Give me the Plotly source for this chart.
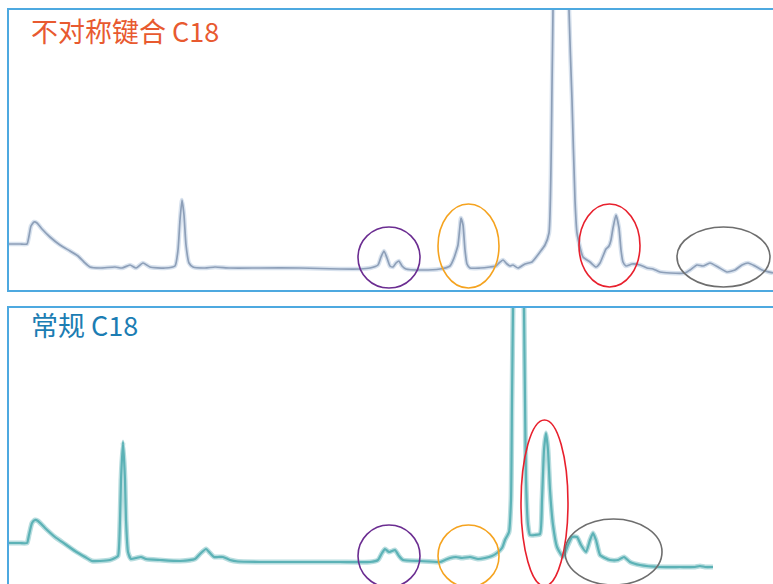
import plotly.graph_objects as go

# Retention time (min) and detector signal (mAU) for the asymmetric-bonded C18 column
t_asym = [0.00, 0.55, 0.90, 1.00, 1.10, 1.25, 1.40, 1.65, 2.05, 2.55, 3.05, 3.45, 3.75, 4.05,
          4.55, 5.30, 5.65, 6.05, 6.35, 6.70, 7.05, 7.80, 8.30, 8.45, 8.55, 8.65, 8.75, 8.85,
          9.00, 9.20, 9.80, 10.30, 11.05, 12.55, 14.55, 16.55, 17.55, 18.05, 18.45, 18.60,
          18.75, 18.90, 19.05, 19.20, 19.35, 19.50, 19.65, 19.85, 20.55, 21.55, 22.05, 22.25,
          22.35, 22.45, 22.55, 22.60, 22.70, 22.80, 22.90, 23.05, 23.55, 24.05, 24.35, 24.50,
          24.70, 24.90, 25.05, 25.20, 25.45, 25.80, 26.15, 26.55, 26.80, 27.00, 27.15, 27.20,
          27.60, 28.00, 28.15, 28.30, 28.40, 28.70, 29.05, 29.35, 29.55, 29.70, 29.85, 30.00,
          30.10, 30.20, 30.35, 30.50, 30.60, 30.70, 30.85, 31.15, 31.55, 31.90, 32.20, 32.55,
          33.05, 33.80, 34.05, 34.40, 34.70, 35.05, 35.45, 35.90, 36.30, 36.65, 36.95, 37.30,
          37.65, 38.20]
s_asym = [23, 23, 23, 27, 32, 34, 33.5, 30.5, 26.5, 22.5, 19.5, 17, 14, 11.5,
          11, 11.5, 11, 12.5, 11, 13.5, 11.5, 11, 12, 20, 35, 45, 37.5, 22.5,
          13.5, 11.5, 11, 11.5, 11, 11, 11, 10.5, 10.5, 11, 12.5, 16.5,
          19.5, 16, 12, 11.5, 13.5, 14.5, 12, 10.5, 10, 10.5, 12, 16,
          19, 22.5, 32, 36, 32.5, 20, 13, 11, 11, 11.5, 12, 13.5,
          15, 13, 12, 12.5, 11, 13, 14, 19, 22.5, 28.5, 101.5, 140,
          420, 140, 95, 45, 28.5, 16.5, 14, 11.5, 13.5, 17, 20.5, 22,
          25, 31, 37.5, 31, 20, 14, 12, 13, 12.5, 11, 10.5, 9,
          8.5, 8.5, 10, 12.5, 12, 13.5, 11.5, 9, 10, 12.5, 13.5, 12,
          10, 8.5]

# Retention time (min) and detector signal (mAU) for the conventional C18 column
t_conv = [0.00, 0.55, 0.90, 1.00, 1.15, 1.30, 1.45, 1.80, 2.30, 2.80, 3.30, 3.80, 4.15, 4.55,
          5.05, 5.30, 5.45, 5.55, 5.60, 5.70, 5.80, 5.85, 5.95, 6.10, 6.35, 6.60, 6.85, 7.55,
          8.55, 9.30, 9.55, 9.85, 10.05, 10.25, 10.45, 10.70, 11.05, 11.45, 12.55, 14.55, 16.55,
          18.05, 18.45, 18.65, 18.80, 19.00, 19.15, 19.30, 19.50, 19.70, 20.55, 21.55, 21.80,
          22.05, 22.35, 22.65, 23.05, 23.45, 23.80, 24.15, 24.40, 24.65, 24.80, 25.00, 25.10,
          25.15, 25.20, 25.475, 25.75, 25.80, 25.85, 25.95, 26.05, 26.30, 26.55, 26.65, 26.75,
          26.85, 26.95, 27.05, 27.20, 27.40, 27.70, 27.95, 28.15, 28.40, 28.60, 28.85, 29.05,
          29.20, 29.35, 29.55, 29.80, 30.05, 30.45, 30.75, 31.05, 31.55, 32.55, 33.55, 34.30,
          34.55, 34.80, 35.20]
s_conv = [22.5, 22.5, 22.5, 26.5, 32.5, 34, 33.5, 30, 25.5, 22, 18.5, 15.5, 13.5, 13.5,
          14, 15, 16, 34, 54, 73, 54, 34, 18, 14.5, 15, 15.5, 14.5, 14,
          13.5, 14.5, 17, 19.5, 17.5, 15.5, 15.5, 15.5, 14, 13.25, 13, 13, 13,
          13, 14, 17.5, 19.5, 18, 18.5, 19, 16, 14, 13.5, 13, 14,
          15, 15.5, 15, 15.5, 14.5, 15, 16, 17.5, 20, 24, 28, 44,
          94, 140, 420, 140, 94, 54, 31.5, 26.5, 26.5, 27, 44, 69,
          77.5, 69, 49, 31.5, 20.5, 15.5, 21.5, 25.5, 25.5, 21.5, 18, 24,
          27.5, 24, 16.5, 15, 14, 14, 15.5, 13, 11.5, 10.5, 10.5, 10.5,
          11, 10.5, 10.5]

panel_titles = ["不对称键合 C18", "常规 C18"]

# Highlighted peak groups: (panel, t_start, t_end, s_low, s_high, colour)
highlights = [
    (0, 17.45, 20.55, 1.0, 31.5, "#6b2d91"),
    (0, 21.45, 24.50, 1.0, 43.0, "#f5a31f"),
    (0, 28.50, 31.55, 1.5, 43.0, "#e8202d"),
    (0, 33.40, 38.05, 1.5, 31.5, "#6e6e6e"),
    (1, 17.45, 20.55, 0.5, 31.5, "#6b2d91"),
    (1, 21.45, 24.50, 0.5, 31.5, "#f5a31f"),
    (1, 25.60, 27.95, 1.0, 84.0, "#e8202d"),
    (1, 27.80, 32.65, 1.5, 34.5, "#6e6e6e"),
]

W, H = 773, 584
FRAME = "#4ea9e0"
x_dom = [9 / W, 1.0]
t_range = [0, 38.2]

fig = go.Figure()

# Each chromatogram: a soft wide underlay plus the sharper trace on top
smooth = dict(shape="spline", smoothing=0.5)
fig.add_trace(go.Scatter(x=t_asym, y=s_asym, mode="lines", xaxis="x", yaxis="y",
                         line=dict(color="#d8e2ee", width=4.5, **smooth), hoverinfo="skip"))
fig.add_trace(go.Scatter(x=t_asym, y=s_asym, mode="lines", xaxis="x", yaxis="y",
                         line=dict(color="#8d9fb8", width=1.7, **smooth)))
fig.add_trace(go.Scatter(x=t_conv, y=s_conv, mode="lines", xaxis="x2", yaxis="y2",
                         line=dict(color="#b8dddf", width=5, **smooth), hoverinfo="skip"))
fig.add_trace(go.Scatter(x=t_conv, y=s_conv, mode="lines", xaxis="x2", yaxis="y2",
                         line=dict(color="#5cb2b6", width=2.2, **smooth)))

for panel, t0, t1, s0, s1, col in highlights:
    ax = "" if panel == 0 else "2"
    fig.add_shape(type="circle", xref="x" + ax, yref="y" + ax,
                  x0=t0, x1=t1, y0=s0, y1=s1,
                  line=dict(color=col, width=1.6), layer="above")

title_cols = ["#e85a30", "#1c7db3"]
title_y = [1 - 30.5 / H, 1 - 324.5 / H]
for txt, col, yy in zip(panel_titles, title_cols, title_y):
    fig.add_annotation(text=txt, xref="paper", yref="paper", x=29 / W, y=yy,
                       xanchor="left", yanchor="middle", showarrow=False,
                       font=dict(family="Noto Sans CJK SC", size=27, color=col))

axis_common = dict(showgrid=False, zeroline=False, showticklabels=False, ticks="",
                   linecolor=FRAME, linewidth=2)

fig.update_layout(
    width=W, height=H,
    margin=dict(l=0, r=0, t=0, b=0),
    paper_bgcolor="white", plot_bgcolor="white",
    showlegend=False,
    xaxis=dict(domain=x_dom, range=t_range, showline=True, mirror=True,
               anchor="y", **axis_common),
    yaxis=dict(domain=[1 - 290 / H, 1 - 10 / H], range=[0, 140], showline=True,
               anchor="x", **axis_common),
    xaxis2=dict(domain=x_dom, range=t_range, showline=True, side="top",
                anchor="y2", **axis_common),
    yaxis2=dict(domain=[0, 1 - 308 / H], range=[2, 140], showline=True,
                anchor="x2", **axis_common),
)

fig.write_html("out.html")
